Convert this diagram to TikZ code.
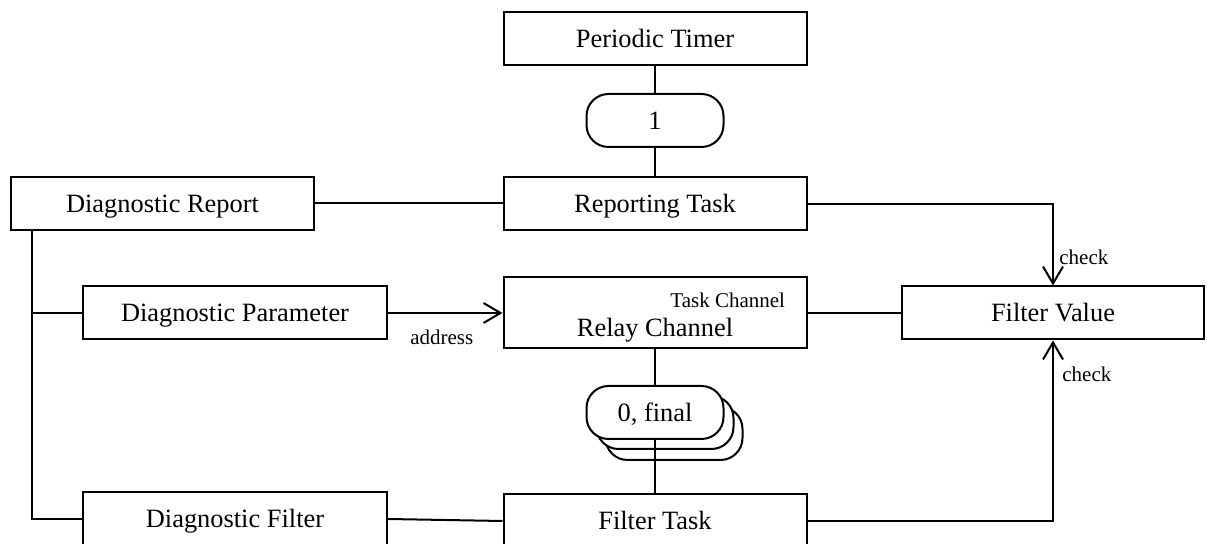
\documentclass[tikz,border=0pt]{standalone}
\usepackage{fontspec}
\setmainfont{Liberation Serif}
\usetikzlibrary{arrows.meta}
\begin{document}
\begin{tikzpicture}[x=0.5pt,y=-0.5pt,
  txt/.style={font=\fontsize{13.2}{15}\selectfont,text height=0.86em,text depth=0pt},
  box/.style={txt,draw,line width=1pt,minimum width=151.5pt,minimum height=26.5pt,inner sep=0pt,fill=white},
  pill/.style={txt,draw,line width=1pt,rounded corners=11pt,minimum width=68.5pt,minimum height=26.5pt,inner sep=0pt,fill=white},
  conn/.style={line width=1pt},
  arr/.style={conn,-{Straight Barb[length=8.5pt,width=10pt]}},
  lbl/.style={inner sep=0pt,font=\fontsize{10.5}{12}\selectfont}]
\useasboundingbox (0,0) rectangle (1207,544);
% boxes
\node[box] (ptimer) at (655,38.5) {Periodic Timer};
\node[pill] (pone) at (655,120.5) {1};
\node[box] (rtask) at (655,203.5) {Reporting Task};
\node[box] (drep) at (162.5,203.5) {Diagnostic Report};
\node[box,minimum width=152pt] (dparam) at (235,313) {Diagnostic Parameter};
\node[box,minimum height=35.5pt] (relay) at (655,312.5) {};
\node[lbl,anchor=west] (tchan) at (670,300) {Task Channel};
\node[txt,inner sep=0pt] (rchan) at (655,328) {Relay Channel};
\node[box,minimum width=151pt] (fval) at (1053,313) {Filter Value};
% stacked pill
\node[pill] (pzc) at (674,433.5) {};
\node[pill] (pzb) at (665,422.5) {};
\node[pill] (pzero) at (655,412.5) {0, final};
\node[box] (ftask) at (655,521) {Filter Task};
\node[box,minimum width=152pt] (dfilt) at (235,519) {Diagnostic Filter};
% connectors
\coordinate (trunk) at (32,230);
\coordinate (brp) at (32,313);
\coordinate (brf) at (32,519);
\coordinate (cka) at (1053,204);
\coordinate (ckb) at (1053,521);
\draw[conn] (ptimer.south) -- (pone.north);
\draw[conn] (pone.south) -- (rtask.north);
\draw[conn] (drep.east) -- (rtask.west);
\draw[arr] (rtask.east |- cka) -- (cka) -- (fval.north);
\draw[arr] (dparam.east) -- node[lbl,pos=0.47,below=8pt] (addr) {address} (relay.west |- dparam.east);
\draw[conn] (relay.east |- fval.west) -- (fval.west);
\draw[conn] (relay.south) -- (pzero.north);
\draw[conn] (pzero.south) -- (ftask.north);
\draw[conn] (dfilt.east) -- (ftask.west);
\draw[arr] (ftask.east |- ckb) -- (ckb) -- (fval.south);
\draw[conn] (trunk) -- (brf) -- (dfilt.west);
\draw[conn] (brp) -- (dparam.west);
\node[lbl,anchor=west] (chka) at (1059,257) {check};
\node[lbl,anchor=west] (chkb) at (1062,374) {check};
\end{tikzpicture}
\end{document}
